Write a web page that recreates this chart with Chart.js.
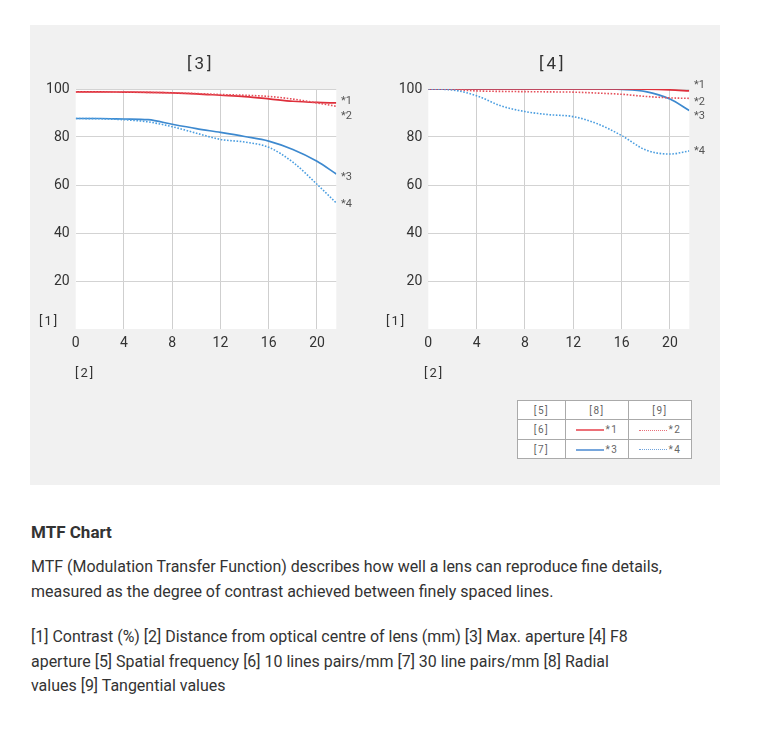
<!DOCTYPE html>
<html>
<head>
<meta charset="utf-8">
<script src="https://cdn.jsdelivr.net/npm/chart.js@4.4.1/dist/chart.umd.min.js"></script>
<style>
  html, body { margin: 0; padding: 0; background: #ffffff; }
  body { width: 771px; height: 734px; position: relative; overflow: hidden; font-family: Roboto, "Open Sans", sans-serif; color: #333; }
  #panel { position: absolute; left: 30px; top: 25px; width: 690px; height: 460px; background: #f1f1f1; }
  .cw { position: absolute; width: 340px; height: 350px; top: 40px; }
  .lbl { position: absolute; white-space: nowrap; color: #333; line-height: 1; }
  .title { font-size: 17px; letter-spacing: 3px; }
  .ax { font-size: 13px; letter-spacing: 2px; }
  .ser { font-size: 11px; color: #555; }
  #legend { position: absolute; left: 517px; top: 400px; border-collapse: collapse; background: #fff; font-size: 10px; color: #666; }
  #legend td { border: 1px solid #aaa; padding: 0; text-align: center; height: 18px; letter-spacing: 1.5px; }
  .smp { display: inline-block; width: 28px; height: 0; vertical-align: middle; margin-right: 2px; }
  .txt { position: absolute; left: 31px; white-space: nowrap; color: #333; }
  #h { font-weight: bold; font-size: 17px; top: 522px; }
  .para { line-height: 24.6px; }
</style>
</head>
<body>
<div id="panel"></div>
<div class="cw" style="left:30px"><canvas id="c1" width="340" height="350"></canvas></div>
<div class="cw" style="left:380px"><canvas id="c2" width="340" height="350"></canvas></div>

<div class="lbl title" style="left:187px; top:55px">[3]</div>
<div class="lbl title" style="left:539px; top:55px">[4]</div>
<div class="lbl ax" style="left:39px; top:314px">[1]</div>
<div class="lbl ax" style="left:386px; top:314px">[1]</div>
<div class="lbl ax" style="left:75px; top:366px">[2]</div>
<div class="lbl ax" style="left:424px; top:366px">[2]</div>

<div class="lbl ser" style="left:341px; top:95px">*1</div>
<div class="lbl ser" style="left:341px; top:110px">*2</div>
<div class="lbl ser" style="left:341px; top:171px">*3</div>
<div class="lbl ser" style="left:341px; top:198px">*4</div>
<div class="lbl ser" style="left:694px; top:79px">*1</div>
<div class="lbl ser" style="left:694px; top:96px">*2</div>
<div class="lbl ser" style="left:694px; top:110px">*3</div>
<div class="lbl ser" style="left:694px; top:145px">*4</div>

<table id="legend">
  <tr><td style="width:47px">[5]</td><td style="width:62px">[8]</td><td style="width:62px">[9]</td></tr>
  <tr style="height:20px"><td>[6]</td><td><span class="smp" style="border-top:2.5px solid #ec7078"></span>*1</td><td><span class="smp" style="border-top:1px dotted #e8707a"></span>*2</td></tr>
  <tr style="height:19px"><td>[7]</td><td><span class="smp" style="border-top:2.5px solid #76a6dc"></span>*3</td><td><span class="smp" style="border-top:1px dotted #6fa3dc"></span>*4</td></tr>
</table>

<div id="h" class="txt">MTF Chart</div>
<div id="p1" class="txt para" style="top:555px">MTF (Modulation Transfer Function) describes how well a lens can reproduce fine details,<br>measured as the degree of contrast achieved between finely spaced lines.</div>
<div id="p2" class="txt para" style="top:625px">[1] Contrast (%) [2] Distance from optical centre of lens (mm) [3] Max. aperture [4] F8<br>aperture [5] Spatial frequency [6] 10 lines pairs/mm [7] 30 line pairs/mm [8] Radial<br>values [9] Tangential values</div>

<script>
// ---- data ----
const positions = [0, 2, 4, 6, 8, 10, 12, 14, 16, 18, 20, 21.6];   // mm from centre
const xTicks = [0, 4, 8, 12, 16, 20];
const yTicks = [20, 40, 60, 80, 100];

// [3] Max. aperture
const maxRadial10     = [98.8, 98.8, 98.7, 98.6, 98.4, 98.0, 97.4, 96.8, 95.9, 94.9, 94.4, 94.2];
const maxTangential10 = [98.8, 98.8, 98.7, 98.6, 98.4, 98.1, 97.7, 97.4, 96.9, 95.8, 94.2, 92.8];
const maxRadial30     = [87.7, 87.7, 87.5, 87.2, 85.3, 83.5, 81.9, 80.2, 78.3, 74.8, 69.9, 64.6];
const maxTangential30 = [87.7, 87.6, 87.2, 86.3, 84.3, 81.6, 79.0, 77.9, 75.7, 69.5, 60.3, 52.5];

// [4] F8 aperture
const f8Radial10      = [100, 100, 100, 100, 100, 100, 100, 100, 100, 99.9, 99.6, 99.2];
const f8Tangential10  = [100, 99.8, 99.2, 99.0, 98.9, 98.8, 98.7, 98.3, 97.8, 96.9, 96.3, 96.1];
const f8Radial30      = [100, 100, 100, 100, 100, 100, 100, 100, 99.8, 98.9, 95.8, 91.0];
const f8Tangential30  = [100, 99.6, 97.2, 93.0, 90.6, 89.3, 88.5, 85.5, 80.6, 74.6, 72.9, 74.2];

const RED = '#de2f3b', RED_D = '#e5505a', BLUE = '#3d89cf', BLUE_D = '#4b9ee0';

function pts(vals) { return positions.map((x, i) => ({ x: x, y: vals[i] })); }
function ds(vals, color, dashed) {
  return { data: pts(vals), borderColor: color, borderWidth: dashed ? 1.6 : 1.7,
           borderDash: dashed ? [1.6, 1.6] : [], pointRadius: 0, fill: false,
           cubicInterpolationMode: 'monotone' };
}

const plotBg = {
  id: 'plotBg',
  beforeDraw(chart) {
    const a = chart.chartArea, c = chart.ctx;
    c.save(); c.fillStyle = '#ffffff';
    c.fillRect(a.left, a.top, a.right - a.left, a.bottom - a.top);
    c.restore();
  }
};

function makeChart(id, sets, leftRel, rightRel) {
  const yW = 40, xH = 30, top = 49, bottomRel = 289;
  return new Chart(document.getElementById(id), {
    type: 'line',
    data: { datasets: sets },
    options: {
      responsive: false, animation: false, devicePixelRatio: 1,
      layout: { padding: { left: leftRel - yW, right: 340 - rightRel, top: top, bottom: 350 - bottomRel - xH } },
      plugins: { legend: { display: false }, tooltip: { enabled: false } },
      scales: {
        x: {
          type: 'linear', min: 0, max: 21.6,
          afterFit(s) { s.height = xH; },
          afterBuildTicks(s) { s.ticks = xTicks.map(v => ({ value: v })); },
          ticks: { padding: 6, color: '#333', font: { family: 'Roboto', size: 14 }, maxRotation: 0 },
          grid: { drawTicks: false, color: ctx => (ctx.tick && ctx.tick.value === 0) ? 'rgba(0,0,0,0)' : '#cfcfcf', lineWidth: 1 },
          border: { display: false }
        },
        y: {
          type: 'linear', min: 0, max: 100,
          afterFit(s) { s.width = yW; },
          afterBuildTicks(s) { s.ticks = yTicks.map(v => ({ value: v })); },
          ticks: { padding: 6, color: '#333', font: { family: 'Roboto', size: 14 } },
          grid: { drawTicks: false, color: '#d3d3d3', lineWidth: 1 },
          border: { display: false }
        }
      }
    },
    plugins: [plotBg]
  });
}

makeChart('c1', [
  ds(maxTangential30, BLUE_D, true), ds(maxRadial30, BLUE, false),
  ds(maxTangential10, RED_D, true), ds(maxRadial10, RED, false)
], 45.7, 306.3);
makeChart('c2', [
  ds(f8Tangential30, BLUE_D, true), ds(f8Tangential10, RED_D, true),
  ds(f8Radial10, RED, false), ds(f8Radial30, BLUE, false)
], 48.3, 309.3);

// fit paragraph font size so that the first line spans ~632px like the reference
(function fitText() {
  const c = document.createElement('canvas').getContext('2d');
  c.font = '15px Roboto';
  const w = c.measureText('MTF (Modulation Transfer Function) describes how well a lens can reproduce fine details,').width;
  const size = 15 * 632 / w;
  document.getElementById('p1').style.fontSize = size + 'px';
  document.getElementById('p2').style.fontSize = size + 'px';
})();
</script>
</body>
</html>
